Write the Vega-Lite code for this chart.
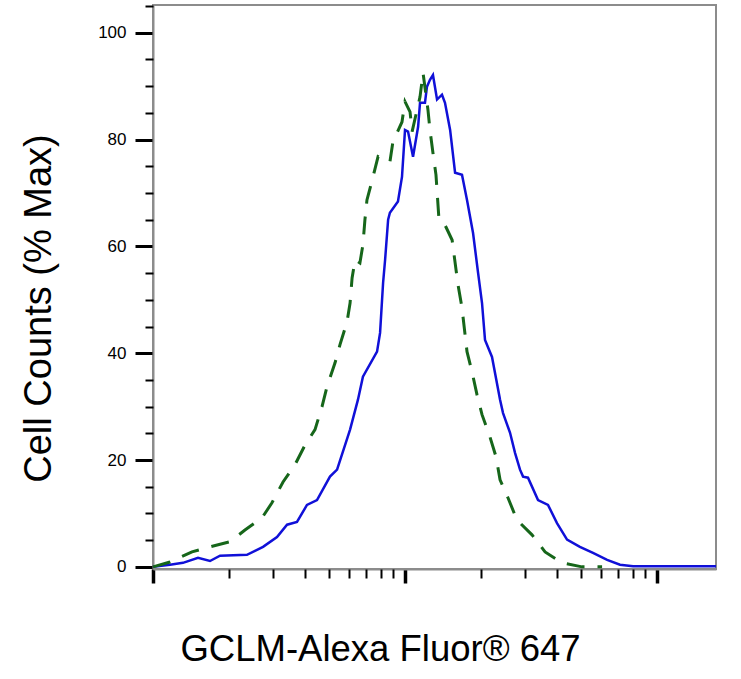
{
  "$schema": "https://vega.github.io/schema/vega-lite/v6.json",
  "width": 563,
  "height": 564,
  "autosize": "none",
  "padding": {"left": 153, "top": 5, "right": 25, "bottom": 110},
  "background": "white",
  "config": {
    "view": {"stroke": "#8c8c8c", "strokeWidth": 2},
    "font": "Liberation Sans",
    "axis": {
      "domainColor": "#8c8c8c",
      "domainWidth": 2,
      "tickColor": "black",
      "grid": false,
      "labelFont": "Liberation Sans",
      "titleFont": "Liberation Sans",
      "titleFontWeight": "normal",
      "labelColor": "black",
      "titleColor": "black"
    }
  },
  "data": {
    "values": [
      {"s": "GCLM", "x": 1000, "y": 0},
      {"s": "GCLM", "x": 1168, "y": 0.4},
      {"s": "GCLM", "x": 1315, "y": 0.75},
      {"s": "GCLM", "x": 1509, "y": 1.7},
      {"s": "GCLM", "x": 1683, "y": 1.1},
      {"s": "GCLM", "x": 1845, "y": 2.1},
      {"s": "GCLM", "x": 2360, "y": 2.25},
      {"s": "GCLM", "x": 2733, "y": 3.75},
      {"s": "GCLM", "x": 3105, "y": 5.6},
      {"s": "GCLM", "x": 3404, "y": 7.9},
      {"s": "GCLM", "x": 3727, "y": 8.4},
      {"s": "GCLM", "x": 4083, "y": 11.6},
      {"s": "GCLM", "x": 4475, "y": 12.5},
      {"s": "GCLM", "x": 5038, "y": 16.9},
      {"s": "GCLM", "x": 5375, "y": 18.2},
      {"s": "GCLM", "x": 6053, "y": 25.7},
      {"s": "GCLM", "x": 6506, "y": 31.3},
      {"s": "GCLM", "x": 6808, "y": 35.6},
      {"s": "GCLM", "x": 7745, "y": 40.3},
      {"s": "GCLM", "x": 7962, "y": 43.8},
      {"s": "GCLM", "x": 8185, "y": 53.2},
      {"s": "GCLM", "x": 8337, "y": 57.5},
      {"s": "GCLM", "x": 8570, "y": 65.0},
      {"s": "GCLM", "x": 8710, "y": 66.3},
      {"s": "GCLM", "x": 9376, "y": 68.4},
      {"s": "GCLM", "x": 9727, "y": 73.0},
      {"s": "GCLM", "x": 10000, "y": 81.8},
      {"s": "GCLM", "x": 10280, "y": 81.5},
      {"s": "GCLM", "x": 10760, "y": 76.8},
      {"s": "GCLM", "x": 11270, "y": 82.4},
      {"s": "GCLM", "x": 11470, "y": 86.9},
      {"s": "GCLM", "x": 12000, "y": 86.9},
      {"s": "GCLM", "x": 12220, "y": 89.9},
      {"s": "GCLM", "x": 12560, "y": 91.2},
      {"s": "GCLM", "x": 12910, "y": 92.1},
      {"s": "GCLM", "x": 13400, "y": 87.5},
      {"s": "GCLM", "x": 14020, "y": 88.4},
      {"s": "GCLM", "x": 14410, "y": 86.9},
      {"s": "GCLM", "x": 15100, "y": 81.8},
      {"s": "GCLM", "x": 15800, "y": 73.8},
      {"s": "GCLM", "x": 16830, "y": 73.4},
      {"s": "GCLM", "x": 17620, "y": 68.7},
      {"s": "GCLM", "x": 18620, "y": 62.5},
      {"s": "GCLM", "x": 19490, "y": 55.1},
      {"s": "GCLM", "x": 20210, "y": 49.4},
      {"s": "GCLM", "x": 20770, "y": 42.5},
      {"s": "GCLM", "x": 22140, "y": 39.3},
      {"s": "GCLM", "x": 23830, "y": 31.3},
      {"s": "GCLM", "x": 24490, "y": 28.8},
      {"s": "GCLM", "x": 26110, "y": 25.1},
      {"s": "GCLM", "x": 27340, "y": 21.3},
      {"s": "GCLM", "x": 28600, "y": 18.2},
      {"s": "GCLM", "x": 29400, "y": 16.9},
      {"s": "GCLM", "x": 30760, "y": 16.7},
      {"s": "GCLM", "x": 33710, "y": 12.5},
      {"s": "GCLM", "x": 36930, "y": 11.6},
      {"s": "GCLM", "x": 40090, "y": 8.2},
      {"s": "GCLM", "x": 43950, "y": 5.1},
      {"s": "GCLM", "x": 49430, "y": 3.75},
      {"s": "GCLM", "x": 55700, "y": 2.6},
      {"s": "GCLM", "x": 63390, "y": 1.3},
      {"s": "GCLM", "x": 71300, "y": 0.4},
      {"s": "GCLM", "x": 80350, "y": 0.1},
      {"s": "GCLM", "x": 123300, "y": 0.1},
      {"s": "GCLM", "x": 171400, "y": 0.1},
      {"s": "Control", "x": 1000, "y": 0},
      {"s": "Control", "x": 1168, "y": 0.9},
      {"s": "Control", "x": 1428, "y": 2.8},
      {"s": "Control", "x": 1637, "y": 3.6},
      {"s": "Control", "x": 2022, "y": 4.7},
      {"s": "Control", "x": 2317, "y": 6.9},
      {"s": "Control", "x": 2710, "y": 9.2},
      {"s": "Control", "x": 2965, "y": 12.0},
      {"s": "Control", "x": 3281, "y": 15.9},
      {"s": "Control", "x": 3658, "y": 19.1},
      {"s": "Control", "x": 4010, "y": 22.8},
      {"s": "Control", "x": 4394, "y": 25.7},
      {"s": "Control", "x": 4685, "y": 30.0},
      {"s": "Control", "x": 4902, "y": 33.7},
      {"s": "Control", "x": 5276, "y": 38.2},
      {"s": "Control", "x": 5521, "y": 41.6},
      {"s": "Control", "x": 5888, "y": 45.9},
      {"s": "Control", "x": 6053, "y": 49.4},
      {"s": "Control", "x": 6166, "y": 54.1},
      {"s": "Control", "x": 6339, "y": 57.5},
      {"s": "Control", "x": 6622, "y": 56.9},
      {"s": "Control", "x": 6808, "y": 60.3},
      {"s": "Control", "x": 6934, "y": 65.0},
      {"s": "Control", "x": 7063, "y": 68.7},
      {"s": "Control", "x": 7464, "y": 73.0},
      {"s": "Control", "x": 7817, "y": 76.8},
      {"s": "Control", "x": 8710, "y": 75.8},
      {"s": "Control", "x": 8954, "y": 79.6},
      {"s": "Control", "x": 9727, "y": 83.3},
      {"s": "Control", "x": 10000, "y": 87.1},
      {"s": "Control", "x": 10470, "y": 85.2},
      {"s": "Control", "x": 10670, "y": 81.5},
      {"s": "Control", "x": 11470, "y": 88.0},
      {"s": "Control", "x": 11790, "y": 92.5},
      {"s": "Control", "x": 12330, "y": 85.6},
      {"s": "Control", "x": 12560, "y": 81.8},
      {"s": "Control", "x": 12910, "y": 77.5},
      {"s": "Control", "x": 13270, "y": 73.4},
      {"s": "Control", "x": 13640, "y": 65.0},
      {"s": "Control", "x": 14410, "y": 64.0},
      {"s": "Control", "x": 15380, "y": 61.2},
      {"s": "Control", "x": 16230, "y": 52.8},
      {"s": "Control", "x": 16830, "y": 48.5},
      {"s": "Control", "x": 17620, "y": 40.3},
      {"s": "Control", "x": 18450, "y": 36.5},
      {"s": "Control", "x": 19310, "y": 32.2},
      {"s": "Control", "x": 20210, "y": 28.5},
      {"s": "Control", "x": 21740, "y": 24.3},
      {"s": "Control", "x": 22970, "y": 20.6},
      {"s": "Control", "x": 23830, "y": 16.3},
      {"s": "Control", "x": 25640, "y": 12.9},
      {"s": "Control", "x": 27800, "y": 8.8},
      {"s": "Control", "x": 31910, "y": 6.0},
      {"s": "Control", "x": 35950, "y": 2.8},
      {"s": "Control", "x": 41980, "y": 0.75},
      {"s": "Control", "x": 50350, "y": 0},
      {"s": "Control", "x": 60530, "y": 0}
    ]
  },
  "layer": [
    {
      "transform": [{"filter": "datum.s === 'GCLM'"}],
      "mark": {"type": "line", "color": "#1010d8", "strokeWidth": 2.5},
      "encoding": {
        "x": {
          "field": "x",
          "type": "quantitative",
          "scale": {"type": "log", "domain": [1000, 171400], "nice": false},
          "axis": {
            "orient": "bottom",
            "values": [1000, 10000, 100000],
            "labels": false,
            "tickSize": 14,
            "tickWidth": 3.5,
            "title": "GCLM-Alexa Fluor® 647",
            "titleFontSize": 36.5,
            "titleAlign": "center",
            "titleBaseline": "alphabetic",
            "titleX": 227,
            "titleY": 91
          }
        },
        "y": {
          "field": "y",
          "type": "quantitative",
          "scale": {"domain": [-0.4, 105.2], "nice": false, "zero": false},
          "axis": {
            "orient": "left",
            "values": [0, 20, 40, 60, 80, 100],
            "tickSize": 18,
            "tickWidth": 3,
            "labelFontSize": 17,
            "labelPadding": 9,
            "title": "Cell Counts (% Max)",
            "titleFontSize": 38,
            "titleAngle": 270,
            "titleAlign": "center",
            "titleBaseline": "alphabetic",
            "titleX": -103,
            "titleY": 303
          }
        }
      }
    },
    {
      "transform": [{"filter": "datum.s === 'Control'"}],
      "mark": {"type": "line", "color": "#16661a", "strokeWidth": 3, "strokeDash": [18, 13]},
      "encoding": {
        "x": {
          "field": "x",
          "type": "quantitative",
          "axis": {
            "orient": "bottom",
            "values": [2000, 3000, 4000, 5000, 6000, 7000, 8000, 9000, 20000, 30000, 40000, 50000, 60000, 70000, 80000, 90000],
            "labels": false,
            "domain": false,
            "tickSize": 9,
            "tickWidth": 2,
            "title": null
          }
        },
        "y": {
          "field": "y",
          "type": "quantitative",
          "axis": {
            "orient": "left",
            "values": [5, 10, 15, 25, 30, 35, 45, 50, 55, 65, 70, 75, 85, 90, 95, 105],
            "labels": false,
            "domain": false,
            "tickSize": 8,
            "tickWidth": 2,
            "title": null
          }
        }
      }
    }
  ],
  "resolve": {"axis": {"x": "independent", "y": "independent"}}
}
